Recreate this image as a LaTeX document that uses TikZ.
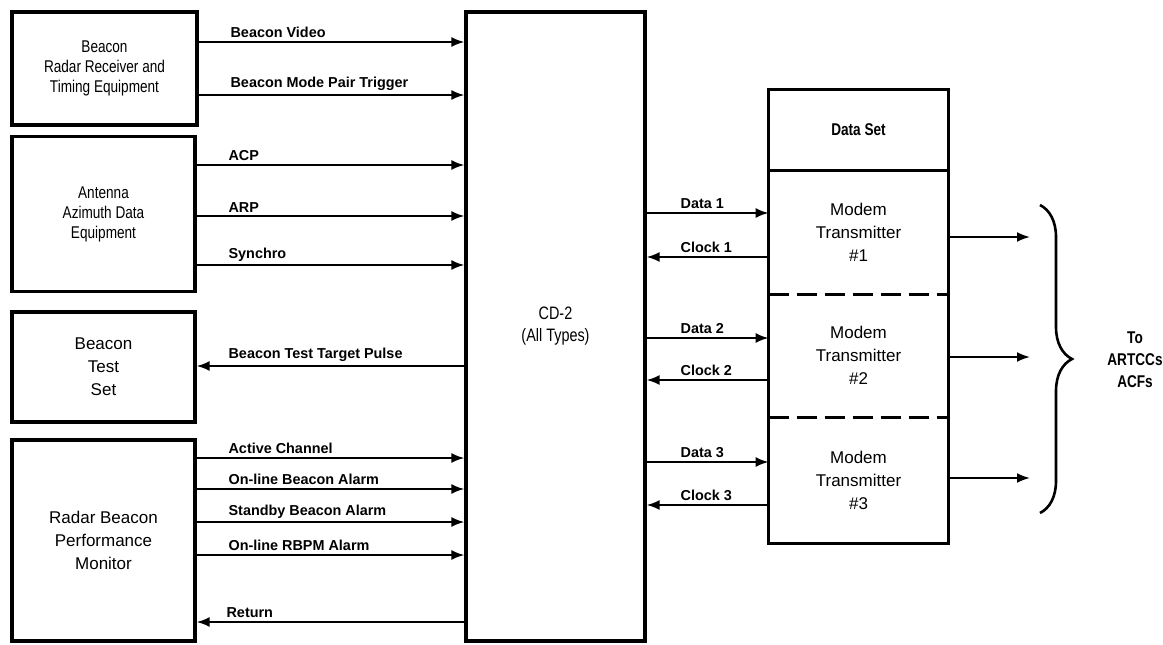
\documentclass[tikz,border=0pt]{standalone}
\usepackage{fontspec}
\setmainfont{Liberation Sans}
\newfontfamily\narrowfont{Liberation Sans}[FakeStretch=0.8]
\usetikzlibrary{arrows.meta,decorations.pathreplacing}

\begin{document}
\begin{tikzpicture}[x=0.5pt,y=-0.5pt,
        blk/.style={draw,line width=1.6pt,align=center,inner sep=0pt,
            font=\narrowfont\fontsize{8.5}{10}\selectfont},
        mdm/.style={minimum width=89.5pt,align=center,inner sep=0pt,
            font=\fontsize{8.5}{11.5}\selectfont},
        sig/.style={line width=1pt,-{Latex[length=6.5pt,width=5pt]}},
        lbl/.style={anchor=south west,inner sep=1.5pt,
            font=\bfseries\fontsize{7.2}{8}\selectfont}]
    \useasboundingbox (0,0) rectangle (1163,644);

    % sources on the left
    \node[blk,minimum width=92.5pt,minimum height=56.5pt] (rcv) at (104.5,68.5)
        {Beacon\\Radar Receiver and\\Timing Equipment};
    \node[blk,minimum width=91.5pt,minimum height=77.5pt] (azm) at (103.5,214)
        {Antenna\\Azimuth Data\\Equipment};
    \node[blk,minimum width=91.5pt,minimum height=55pt,
        font=\fontsize{8.5}{11.5}\selectfont] (bts) at (103.5,367)
        {Beacon\\Test\\Set};
    \node[blk,minimum width=91.5pt,minimum height=100.5pt,
        font=\fontsize{8.5}{11.5}\selectfont] (rbpm) at (103.5,540.5)
        {Radar Beacon\\Performance\\Monitor};

    \node[blk,minimum width=89.5pt,minimum height=314.5pt,
        font=\narrowfont\fontsize{9}{11}\selectfont] (cd) at (555.5,326.5)
        {CD-2\\(All Types)};

    % data set
    \node[minimum width=89.5pt,minimum height=40pt,inner sep=0pt,
        font=\narrowfont\bfseries\fontsize{8.5}{10}\selectfont] (ds) at (858.5,130) {Data Set};
    \node[mdm,minimum height=62pt] (m1) at (858.5,232) {Modem\\Transmitter\\\#1};
    \node[mdm,minimum height=61.5pt] (m2) at (858.5,355.5) {Modem\\Transmitter\\\#2};
    \node[mdm,minimum height=63pt] (m3) at (858.5,480) {Modem\\Transmitter\\\#3};
    \draw[line width=1.6pt] (ds.north west) rectangle (m3.south east);
    \draw[line width=1.6pt] (ds.south west) -- (ds.south east);
    \draw[line width=1.2pt,dash pattern=on 10pt off 4pt] (m1.south west) -- (m1.south east);
    \draw[line width=1.2pt,dash pattern=on 10pt off 4pt] (m2.south west) -- (m2.south east);

    % signals into CD-2
    \draw[sig] (rcv.east |- 0,42) -- (cd.west |- 0,42) node[lbl,pos=0,xshift=14pt] {Beacon Video};
    \draw[sig] (rcv.east |- 0,95) -- (cd.west |- 0,95) node[lbl,pos=0,xshift=14pt] {Beacon Mode Pair Trigger};
    \draw[sig] (azm.east |- 0,165) -- (cd.west |- 0,165) node[lbl,pos=0,xshift=14pt] {ACP};
    \draw[sig] (azm.east |- 0,216) -- (cd.west |- 0,216) node[lbl,pos=0,xshift=14pt] {ARP};
    \draw[sig] (azm.east |- 0,265) -- (cd.west |- 0,265) node[lbl,pos=0,xshift=14pt] {Synchro};
    \draw[sig] (cd.west |- 0,366) -- (bts.east |- 0,366) node[lbl,pos=1,xshift=14pt] {Beacon Test Target Pulse};
    \draw[sig] (rbpm.east |- 0,458) -- (cd.west |- 0,458) node[lbl,pos=0,xshift=14pt] {Active Channel};
    \draw[sig] (rbpm.east |- 0,489) -- (cd.west |- 0,489) node[lbl,pos=0,xshift=14pt] {On-line Beacon Alarm};
    \draw[sig] (rbpm.east |- 0,522) -- (cd.west |- 0,522) node[lbl,pos=0,xshift=14pt] {Standby Beacon Alarm};
    \draw[sig] (rbpm.east |- 0,555) -- (cd.west |- 0,555) node[lbl,pos=0,xshift=14pt] {On-line RBPM Alarm};
    \draw[sig] (cd.west |- 0,622) -- (rbpm.east |- 0,622) node[lbl,pos=1,xshift=13pt] {Return};

    % CD-2 to modems
    \draw[sig] (cd.east |- 0,213) -- (m1.west |- 0,213) node[lbl,pos=0,xshift=15pt] {Data 1};
    \draw[sig] (m1.west |- 0,257) -- (cd.east |- 0,257) node[lbl,pos=1,xshift=15pt] {Clock 1};
    \draw[sig] (cd.east |- 0,338) -- (m2.west |- 0,338) node[lbl,pos=0,xshift=15pt] {Data 2};
    \draw[sig] (m2.west |- 0,380) -- (cd.east |- 0,380) node[lbl,pos=1,xshift=15pt] {Clock 2};
    \draw[sig] (cd.east |- 0,462) -- (m3.west |- 0,462) node[lbl,pos=0,xshift=15pt] {Data 3};
    \draw[sig] (m3.west |- 0,505) -- (cd.east |- 0,505) node[lbl,pos=1,xshift=15pt] {Clock 3};

    % outputs
    \coordinate (out1) at (1030,237);
    \coordinate (out2) at (1030,357);
    \coordinate (out3) at (1030,478);
    \draw[sig] (m1.east |- out1) -- (out1);
    \draw[sig] (m2.east |- out2) -- (out2);
    \draw[sig] (m3.east |- out3) -- (out3);

    \draw[line width=1.3pt,decorate,decoration={brace,amplitude=16pt}]
        (1040,205) -- (1040,513);
    \node[align=center,font=\narrowfont\bfseries\fontsize{8.5}{11}\selectfont] (dest) at (1135,360)
        {To\\ARTCCs\\ACFs};
\end{tikzpicture}
\end{document}
